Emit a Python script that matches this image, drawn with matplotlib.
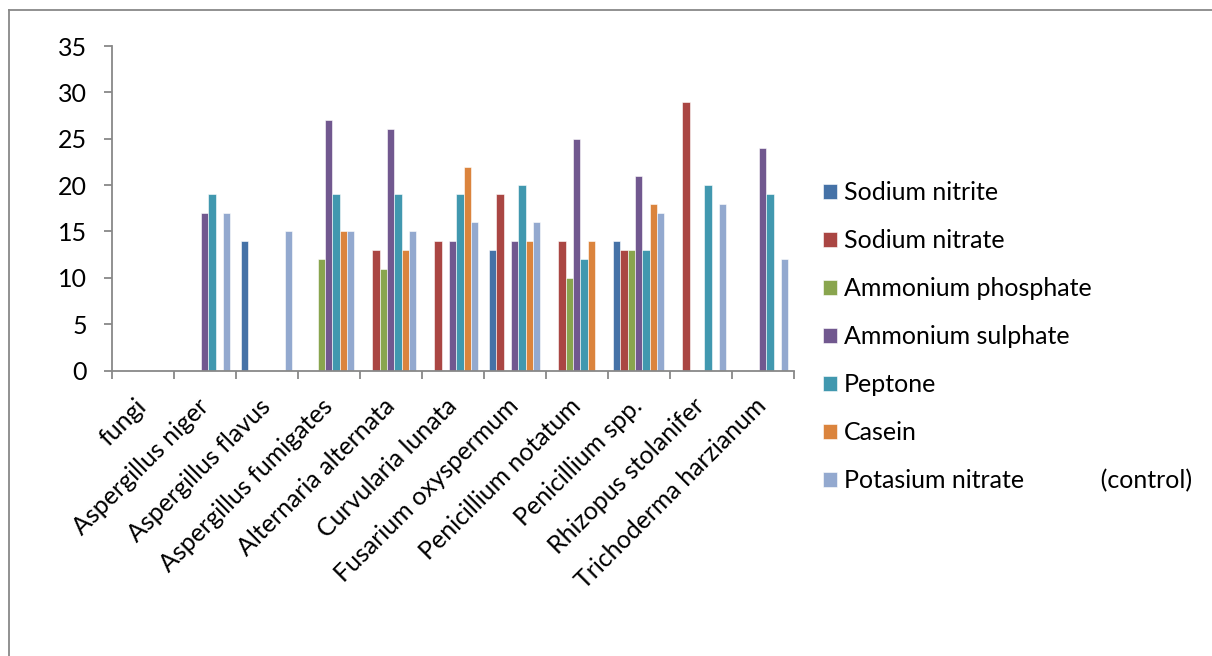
import matplotlib
matplotlib.use("Agg")
import matplotlib.pyplot as plt
from matplotlib.lines import Line2D
import numpy as np

plt.rcParams['font.family'] = ['Lato', 'DejaVu Sans']

fungi = ["fungi", "Aspergillus niger", "Aspergillus flavus", "Aspergillus fumigates",
         "Alternaria alternata", "Curvularia lunata", "Fusarium oxyspermum",
         "Penicillium notatum", "Penicillium spp.", "Rhizopus stolanifer",
         "Trichoderma harzianum"]

# 0 = no bar drawn
sodium_nitrite      = [0, 0, 14, 0, 0, 0, 13, 0, 14, 0, 0]
sodium_nitrate      = [0, 0, 0, 0, 13, 14, 19, 14, 13, 29, 0]
ammonium_phosphate  = [0, 0, 0, 12, 11, 0, 0, 10, 13, 0, 0]
ammonium_sulphate   = [0, 17, 0, 27, 26, 14, 14, 25, 21, 0, 24]
peptone             = [0, 19, 0, 19, 19, 19, 20, 12, 13, 20, 19]
casein              = [0, 0, 0, 15, 13, 22, 14, 14, 18, 0, 0]
potassium_nitrate   = [0, 17, 15, 15, 15, 16, 16, 0, 17, 18, 12]

series_names = ["Sodium nitrite", "Sodium nitrate", "Ammonium phosphate",
                "Ammonium sulphate", "Peptone", "Casein",
                "Potasium nitrate            (control)"]
series = [sodium_nitrite, sodium_nitrate, ammonium_phosphate, ammonium_sulphate,
          peptone, casein, potassium_nitrate]
colors = ["#4572A7", "#AA4643", "#89A54E", "#71588F", "#4198AF", "#DB843D", "#93A9CF"]

fig = plt.figure(figsize=(12.12, 6.56), dpi=100)
ax = fig.add_axes([111.7/1212, 1-370.5/656, 682/1212, 324.5/656])

n = len(series)
w = 1 / 8.5
x = np.arange(len(fungi)) + 0.5
for i, (vals, name, c) in enumerate(zip(series, series_names, colors)):
    ax.bar(x + (i - (n - 1) / 2) * w, vals, width=w, color=c, label=name,
           edgecolor='white', linewidth=0.4)

ax.set_xlim(0, len(fungi))
ax.set_ylim(0, 35)
ax.set_yticks(range(0, 36, 5))
ax.set_xticks(np.arange(len(fungi) + 1))
ax.set_xticklabels([])
ax.set_xticks(x, minor=True)
ax.set_xticklabels(fungi, minor=True, rotation=45, ha='right', va='center',
                   rotation_mode='anchor', fontsize=18)
ax.tick_params(axis='x', which='minor', length=0, pad=23)
ax.tick_params(axis='x', which='major', length=6, width=1.3, color='#888888')
ax.tick_params(axis='y', length=6, width=1.3, color='#888888', pad=12, labelsize=18)

for s in ['top', 'right']:
    ax.spines[s].set_visible(False)
for s in ['left', 'bottom']:
    ax.spines[s].set_color('#888888')
    ax.spines[s].set_linewidth(1.3)

ax.legend(loc='center left', bbox_to_anchor=(823/1212, 1-337/656),
          bbox_transform=fig.transFigure, frameon=False, fontsize=18,
          handlelength=0.55, handleheight=0.55, handletextpad=0.3,
          labelspacing=1.0, borderaxespad=0, borderpad=0)

# outer chart frame
fig.add_artist(Line2D([9/1212, 9/1212], [0, 1-10/656], transform=fig.transFigure,
                      color='#888888', lw=1.3))
fig.add_artist(Line2D([9/1212, 1], [1-10/656, 1-10/656], transform=fig.transFigure,
                      color='#888888', lw=1.3))

fig.savefig("out.png", dpi=100)
